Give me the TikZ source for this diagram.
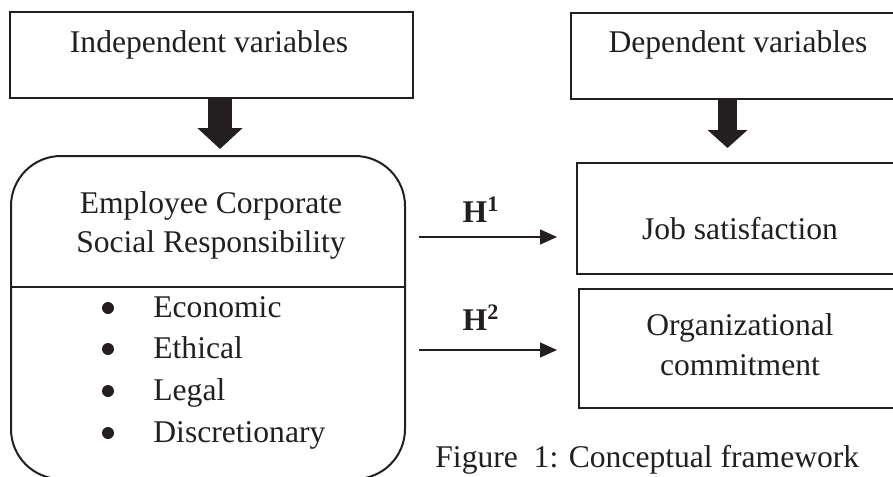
\documentclass[tikz,border=0pt]{standalone}
\usepackage{fontspec}
\setmainfont{Liberation Serif}
\usetikzlibrary{arrows.meta}
\definecolor{ink}{RGB}{35,31,32}
\begin{document}
\begin{tikzpicture}[x=0.5pt,y=-0.5pt,
  box/.style={draw=ink, line width=1pt, inner sep=0pt, anchor=north west},
  txt/.style={text=ink, font=\fontsize{15.8}{20}\selectfont, inner sep=0pt},
  bigarrowA/.style={draw=ink, line width=12pt, -{Triangle[width=22pt,length=10.5pt]}},
  bigarrowB/.style={draw=ink, line width=9.5pt, -{Triangle[width=19.5pt,length=9pt]}},
  thinarrow/.style={draw=ink, line width=0.6pt, -{Triangle[width=7.5pt,length=8.5pt]}},
  bulletdot/.style={circle, fill=ink, inner sep=0pt, minimum size=6pt}
]
\useasboundingbox (0,0) rectangle (893,476);
\clip (0,0) rectangle (893,476);

% top boxes
\node[box, minimum width=201.5pt, minimum height=43pt] (indep) at (9,11) {};
\node[txt, anchor=base] (indeptxt) at (209,53) {Independent variables};
\node[box, minimum width=170pt, minimum height=43pt] (dep) at (570,12) {};
\node[txt, anchor=base] (deptxt) at (738,53) {Dependent variables};

% ECSR rounded box
\node[box, rounded corners=25pt, minimum width=197pt, minimum height=161.5pt] (ecsr) at (10,155) {};
\coordinate (div) at (0,287);
\draw[ink, line width=1.3pt] (ecsr.west |- div) -- (ecsr.east |- div);
\node[txt, anchor=base] (ecsr1) at (211,213) {Employee Corporate};
\node[txt, anchor=base] (ecsr2) at (211,252) {Social Responsibility};

\foreach \i/\t/\yb in {1/Economic/317, 2/Ethical/358, 3/Legal/400, 4/Discretionary/442}{
  \node[bulletdot] (bul\i) at (108,\yb-9) {};
  \node[txt, anchor=base west] (item\i) at (153,\yb) {\t};
}

% right boxes
\node[box, minimum width=172pt, minimum height=55.5pt] (job) at (576,162) {};
\node[txt, anchor=base] (jobtxt) at (740,239) {Job satisfaction};
\node[box, minimum width=171pt, minimum height=59.5pt] (org) at (578,288) {};
\node[txt, anchor=base] (org1) at (740,335) {Organizational};
\node[txt, anchor=base] (org2) at (740,375) {commitment};

% thick arrows
\coordinate (a1) at (220,0);
\draw[bigarrowA, shorten >=3pt] (indep.south -| a1) -- (ecsr.north -| a1);
\coordinate (a2) at (727.5,0);
\draw[bigarrowB, shorten >=7pt] (dep.south -| a2) -- (job.north -| a2);

% hypothesis arrows
\coordinate (h1) at (0,237);
\coordinate (h2) at (0,350);
\draw[thinarrow, shorten <=6.5pt, shorten >=9.5pt] (ecsr.east |- h1) -- (job.west |- h1);
\draw[thinarrow, shorten <=6.5pt, shorten >=10.5pt] (ecsr.east |- h2) -- (org.west |- h2);
\node[txt, anchor=base] (H1) at (481,222) {\textbf{H\textsuperscript{1}}};
\node[txt, anchor=base] (H2) at (481,330) {\textbf{H\textsuperscript{2}}};

% caption
\node[txt, anchor=base west] (cap) at (435,467) {Figure~~1: Conceptual framework};
\end{tikzpicture}
\end{document}
